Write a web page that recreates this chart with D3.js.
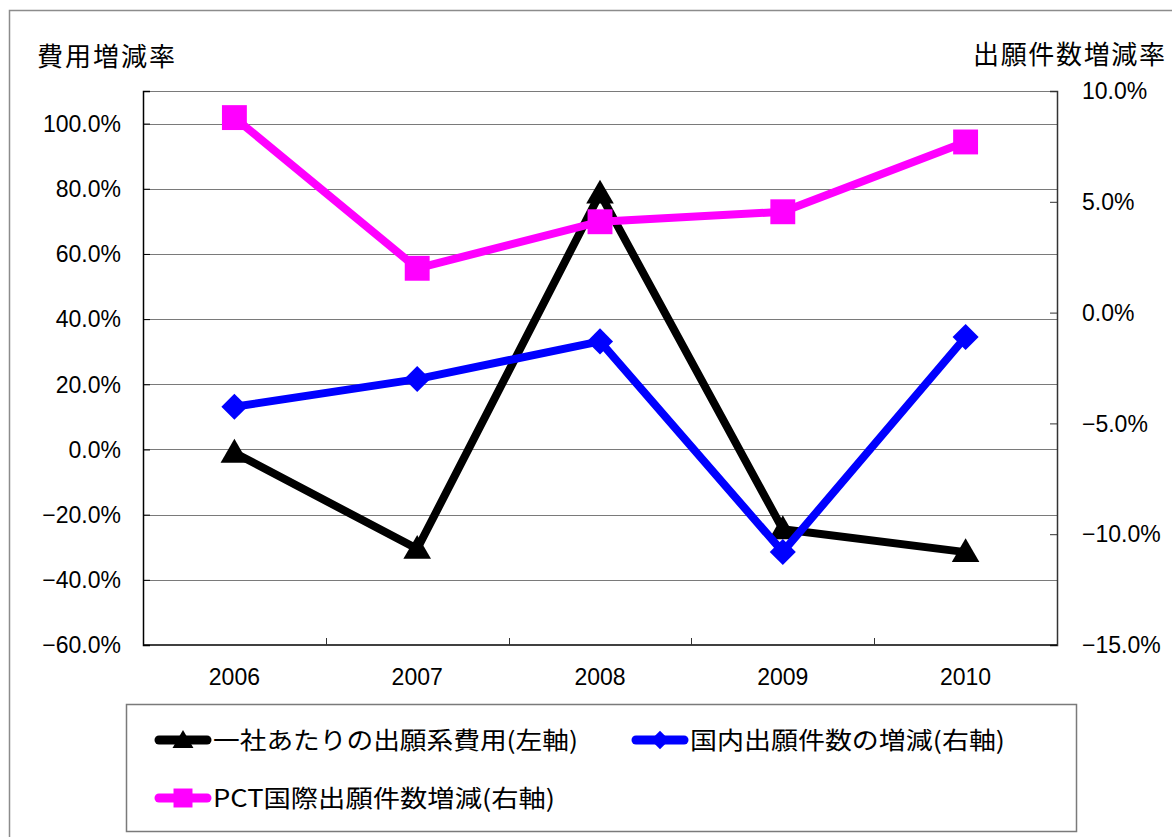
<!DOCTYPE html>
<html>
<head>
<meta charset="utf-8">
<script src="https://cdn.jsdelivr.net/npm/d3@7"></script>
<style>
  body { margin: 0; background: #fff; }
  svg { display: block; }
  .num { font-family: "Liberation Sans", Arial, sans-serif; font-size: 23px; fill: #000; }
  .jp { font-family: "Noto Sans CJK JP", sans-serif; font-size: 24px; fill: #000; }
  .title { font-family: "Noto Sans CJK JP", sans-serif; font-size: 26px; fill: #000; }
</style>
</head>
<body>
<div id="chart"></div>
<script>
// data
const years = ["2006", "2007", "2008", "2009", "2010"];
const costPerCompany = [-0.01, -0.305, 0.785, -0.245, -0.315];   // left axis
const domesticFilings = [-0.0425, -0.030, -0.013, -0.108, -0.011]; // right axis
const pctFilings = [0.088, 0.020, 0.041, 0.0455, 0.077];          // right axis
const leftTicks = [-0.6, -0.4, -0.2, 0, 0.2, 0.4, 0.6, 0.8, 1.0];
const rightTicks = [-0.15, -0.10, -0.05, 0, 0.05, 0.10];
const leftTitle = "費用増減率";
const rightTitle = "出願件数増減率";
const seriesNames = ["一社あたりの出願系費用(左軸)", "国内出願件数の増減(右軸)", "PCT国際出願件数増減(右軸)"];

const W = 1172, H = 837;
const plot = { left: 143, right: 1057, top: 91, bottom: 645 };

const svg = d3.select("#chart").append("svg")
  .attr("width", W)
  .attr("height", H);

// outer chart frame (cropped on right/bottom)
svg.append("rect")
  .attr("x", 9.5).attr("y", 10.5)
  .attr("width", 1300).attr("height", 1000)
  .attr("fill", "none")
  .attr("stroke", "#8c8c8c")
  .attr("stroke-width", 1.5);

const x = d3.scaleBand().domain(years).range([plot.left, plot.right]);
const yL = d3.scaleLinear().domain([-0.6, 1.1]).range([plot.bottom, plot.top]);
const yR = d3.scaleLinear().domain([-0.15, 0.10]).range([plot.bottom, plot.top]);
const fmt = d3.format(".1%");

// gridlines
svg.append("g")
  .selectAll("line")
  .data(leftTicks.filter((d) => d > -0.6))
  .enter()
  .append("line")
  .attr("x1", plot.left).attr("x2", plot.right)
  .attr("y1", (d) => Math.round(yL(d)) + 0.5)
  .attr("y2", (d) => Math.round(yL(d)) + 0.5)
  .attr("stroke", "#7a7a7a")
  .attr("stroke-width", 1);

// plot frame top
svg.append("line")
  .attr("x1", plot.left).attr("x2", plot.right)
  .attr("y1", plot.top + 0.5).attr("y2", plot.top + 0.5)
  .attr("stroke", "#7a7a7a");

// left axis (ticks inside)
const leftAxis = svg.append("g")
  .attr("transform", `translate(${plot.left},0)`)
  .call(d3.axisRight(yL).tickValues(leftTicks).tickSize(7).tickFormat(""));
leftAxis.select(".domain").attr("stroke", "#000").attr("stroke-width", 1.5);
leftAxis.selectAll(".tick line").attr("stroke", "#000");

svg.append("g")
  .selectAll("text")
  .data(leftTicks)
  .enter()
  .append("text")
  .attr("class", "num")
  .attr("x", 121)
  .attr("y", (d) => yL(d))
  .attr("dy", "0.36em")
  .attr("text-anchor", "end")
  .text((d) => fmt(d));

// right axis (ticks inside)
const rightAxis = svg.append("g")
  .attr("transform", `translate(${plot.right},0)`)
  .call(d3.axisLeft(yR).tickValues(rightTicks).tickSize(7).tickFormat(""));
rightAxis.select(".domain").attr("stroke", "#333").attr("stroke-width", 1.5);
rightAxis.selectAll(".tick line").attr("stroke", "#333");

svg.append("g")
  .selectAll("text")
  .data(rightTicks)
  .enter()
  .append("text")
  .attr("class", "num")
  .attr("x", 1082)
  .attr("y", (d) => yR(d))
  .attr("dy", "0.36em")
  .text((d) => fmt(d));

// bottom axis: ticks between categories, pointing up
const bottom = svg.append("g")
  .attr("transform", `translate(0,${plot.bottom})`);
bottom.append("line")
  .attr("x1", plot.left).attr("x2", plot.right)
  .attr("stroke", "#000").attr("stroke-width", 1.5);
bottom.selectAll(".sep")
  .data(years.slice(1))
  .enter()
  .append("line")
  .attr("x1", (d) => Math.round(x(d)) + 0.5)
  .attr("x2", (d) => Math.round(x(d)) + 0.5)
  .attr("y1", 0).attr("y2", -7)
  .attr("stroke", "#333");
bottom.selectAll("text")
  .data(years)
  .enter()
  .append("text")
  .attr("class", "num")
  .attr("x", (d) => x(d) + x.bandwidth() / 2)
  .attr("y", 40)
  .attr("text-anchor", "middle")
  .text((d) => d);

// axis titles
svg.append("text").attr("class", "title")
  .attr("x", 37).attr("y", 66)
  .attr("textLength", 138).attr("lengthAdjust", "spacing")
  .text(leftTitle);
svg.append("text").attr("class", "title")
  .attr("x", 973).attr("y", 64)
  .attr("textLength", 192).attr("lengthAdjust", "spacing")
  .text(rightTitle);

// markers
const squareDiamond = {
  draw(context, size) {
    const r = Math.sqrt(size / 2);
    context.moveTo(0, -r);
    context.lineTo(r, 0);
    context.lineTo(0, r);
    context.lineTo(-r, 0);
    context.closePath();
  },
};
const symTri = d3.symbol().type(d3.symbolTriangle);
const symDia = d3.symbol().type(squareDiamond);
const symSq = d3.symbol().type(d3.symbolSquare);

const series = [
  { name: seriesNames[0], values: costPerCompany, y: yL, color: "#000000", sym: symTri, size: 330, legSize: 190, dy: 2 },
  { name: seriesNames[1], values: domesticFilings, y: yR, color: "#0000ff", sym: symDia, size: 340, legSize: 170, dy: 0 },
  { name: seriesNames[2], values: pctFilings, y: yR, color: "#ff00ff", sym: symSq, size: 620, legSize: 360, dy: 0 },
];

const line = d3.line();

series.forEach((s) => {
  const pts = s.values.map((v, i) => [x(years[i]) + x.bandwidth() / 2, s.y(v)]);
  svg.append("path")
    .attr("d", line(pts))
    .attr("fill", "none")
    .attr("stroke", s.color)
    .attr("stroke-width", 8)
    .attr("stroke-linejoin", "miter");
  svg.append("g")
    .selectAll("path")
    .data(pts)
    .enter()
    .append("path")
    .attr("transform", (p) => `translate(${p[0]},${p[1] + s.dy})`)
    .attr("d", s.sym.size(s.size)())
    .attr("fill", s.color);
});

// legend
svg.append("rect")
  .attr("x", 126.5).attr("y", 704.5)
  .attr("width", 950).attr("height", 127)
  .attr("fill", "#fff")
  .attr("stroke", "#7a7a7a")
  .attr("stroke-width", 1.5);

const legendPos = [
  { x: 155, y: 740, tx: 213, w: 365 },
  { x: 632, y: 740, tx: 690, w: 315 },
  { x: 155, y: 798, tx: 213, w: 342 },
];

series.forEach((s, i) => {
  const p = legendPos[i];
  const g = svg.append("g");
  g.append("line")
    .attr("x1", p.x + 4).attr("x2", p.x + 52)
    .attr("y1", p.y).attr("y2", p.y)
    .attr("stroke", s.color)
    .attr("stroke-width", 9)
    .attr("stroke-linecap", "round");
  g.append("path")
    .attr("transform", `translate(${p.x + 28},${p.y + s.dy})`)
    .attr("d", s.sym.size(s.legSize)())
    .attr("fill", s.color);
  g.append("text")
    .attr("class", "jp")
    .attr("x", p.tx).attr("y", p.y)
    .attr("dy", "0.36em")
    .attr("textLength", p.w).attr("lengthAdjust", "spacingAndGlyphs")
    .text(s.name);
});
</script>
</body>
</html>
